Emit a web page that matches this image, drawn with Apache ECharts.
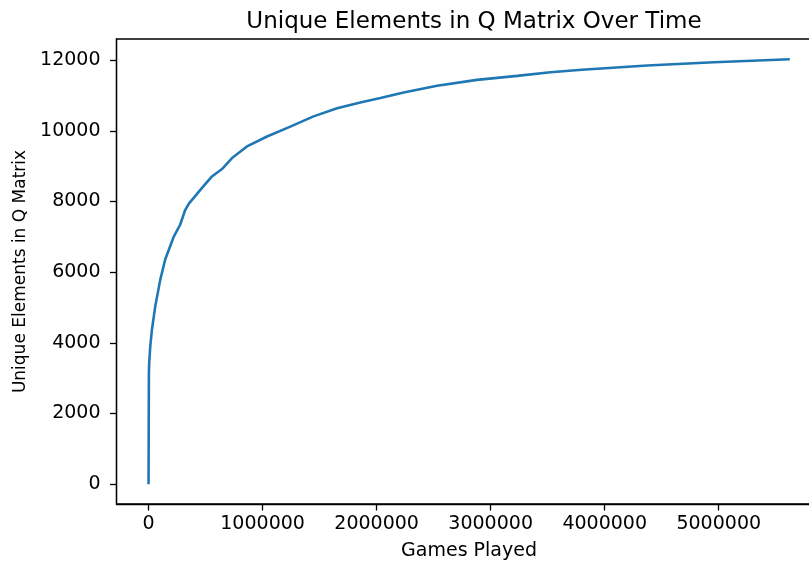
<!DOCTYPE html>
<html lang="en">
<head>
    <meta charset="UTF-8" />
    <title>Unique Elements in Q Matrix Over Time</title>
    <script src="https://cdn.jsdelivr.net/npm/echarts@6/dist/echarts.min.js"></script>
    <style>
        html, body { margin: 0; padding: 0; background: #fff; }
    </style>
</head>
<body>
<div id="main" style="width: 809px;height:561px;"></div>
<script type="text/javascript">
    // values
    var gamesPlayed = [0, 3000, 6000, 15000, 30000, 59000, 103000, 146000, 219000, 278000,
        320000, 355000, 400000, 454000, 520000, 556000, 644000, 732000, 863000, 1039000,
        1243000, 1447000, 1653000, 1857000, 2033000, 2237000, 2530000, 2880000, 3232000,
        3524000, 3800000, 4372000, 4956000, 5623000];
    var uniqueElements = [0, 3150, 3450, 3900, 4380, 5040, 5790, 6360, 6990, 7350,
        7750, 7950, 8120, 8330, 8580, 8710, 8920, 9230, 9560, 9840,
        10120, 10410, 10640, 10800, 10930, 11085, 11275, 11444, 11557,
        11660, 11730, 11848, 11944, 12025];
    var xTicks = [0, 1000000, 2000000, 3000000, 4000000, 5000000];
    var yTicks = [0, 2000, 4000, 6000, 8000, 10000, 12000];

    var font = 'DejaVu Sans';
    var plain = function (v) { return String(v); };
    var myChart = echarts.init(document.getElementById('main'));
    var option = {
        animation: false,
        title: {
            text: 'Unique Elements in Q Matrix Over Time',
            left: 469,
            top: 6,
            textAlign: 'center',
            textStyle: { fontFamily: font, fontSize: 23, fontWeight: 'normal', color: '#000' }
        },
        // plot box runs past the right edge of the picture, as in the reference
        grid: {
            left: 116.5,
            top: 39,
            width: 705,
            height: 465,
            outerBoundsMode: 'none',
            containLabel: false,
            show: true,
            borderColor: '#000',
            borderWidth: 1.3
        },
        xAxis: {
            type: 'value',
            min: -281000,
            max: 5901000,
            name: 'Games Played',
            nameLocation: 'middle',
            nameGap: 38,
            nameTextStyle: { fontFamily: font, fontSize: 19, color: '#000' },
            splitLine: { show: false },
            axisLine: { show: true, onZero: false, lineStyle: { color: '#000', width: 1.3 } },
            axisTick: { show: true, length: 6.5, customValues: xTicks, lineStyle: { color: '#000', width: 1.3 } },
            axisLabel: { customValues: xTicks, formatter: plain, margin: 11, fontFamily: font, fontSize: 19, color: '#000' }
        },
        yAxis: {
            type: 'value',
            min: -560,
            max: 12600,
            name: 'Unique Elements in Q Matrix',
            nameLocation: 'middle',
            nameGap: 86,
            nameTextStyle: { fontFamily: font, fontSize: 17, color: '#000' },
            splitLine: { show: false },
            axisLine: { show: true, onZero: false, lineStyle: { color: '#000', width: 1.3 } },
            axisTick: { show: true, length: 6.5, customValues: yTicks, lineStyle: { color: '#000', width: 1.3 } },
            axisLabel: { customValues: yTicks, formatter: plain, margin: 16, fontFamily: font, fontSize: 19, color: '#000' }
        },
        series: [
            {
                type: 'line',
                data: gamesPlayed.map(function (g, i) { return [g, uniqueElements[i]]; }),
                showSymbol: false,
                smooth: false,
                lineStyle: { color: '#1f77b4', width: 2.6 },
                itemStyle: { color: '#1f77b4' }
            }
        ]
    };
    myChart.setOption(option);
</script>
</body>
</html>
